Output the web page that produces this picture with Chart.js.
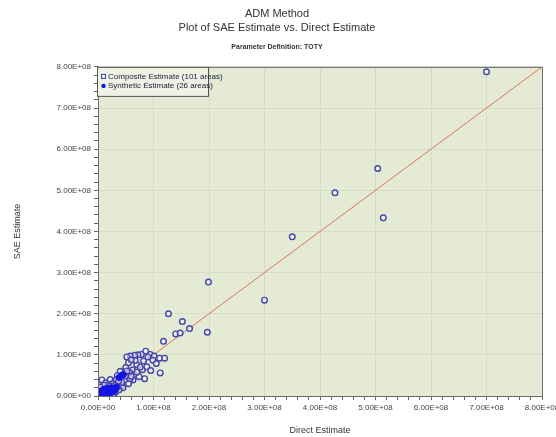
<!DOCTYPE html>
<html lang="en">
<head>
    <meta charset="UTF-8">
    <script src="https://cdn.jsdelivr.net/npm/chart.js@4.4.1/dist/chart.umd.min.js"></script>
    <title>ADM Method - SAE vs Direct</title>
    <style>
        body { margin: 0; background: #fff; }
    </style>
</head>
<body>
    <canvas id="chart" width="556" height="437"></canvas>

    <script>
        // Composite Estimate (101 areas): direct estimate (x) vs SAE estimate (y)
        const compositeX = [
            7.00e8, 5.04e8, 4.27e8, 5.14e8, 3.50e8, 1.99e8, 3.00e8, 1.27e8, 1.52e8, 1.65e8,
            1.40e8, 1.48e8, 1.97e8, 1.18e8, 0.86e8, 0.78e8, 0.72e8, 0.66e8, 0.58e8, 0.52e8,
            0.94e8, 1.01e8, 0.99e8, 1.11e8, 1.20e8, 1.12e8, 0.80e8, 0.74e8, 0.84e8, 0.62e8,
            0.57e8, 0.65e8, 0.45e8, 0.40e8, 0.63e8, 0.22e8, 0.30e8, 0.88e8, 0.70e8, 0.55e8,
            0.50e8, 0.67e8, 1.05e8, 0.95e8, 0.36e8, 0.48e8, 0.42e8, 0.55e8, 0.90e8, 0.60e8,
            0.35e8, 0.45e8, 0.38e8, 0.28e8, 0.25e8, 0.20e8, 0.18e8, 0.15e8, 0.12e8, 0.10e8,
            0.08e8, 0.06e8, 0.05e8, 0.04e8, 0.03e8, 0.02e8, 0.07e8, 0.14e8, 0.32e8, 0.26e8,
            0.50e8, 0.58e8, 0.70e8, 0.76e8, 0.82e8, 0.40e8, 0.33e8, 0.19e8, 0.22e8, 0.16e8,
            0.11e8, 0.09e8, 0.02e8, 0.01e8, 0.03e8, 0.13e8, 0.24e8, 0.29e8, 0.35e8, 0.43e8,
            0.05e8, 0.17e8, 0.21e8, 0.27e8, 0.08e8, 0.11e8, 0.04e8, 0.31e8, 0.37e8, 0.60e8,
            0.52e8
        ];
        const compositeY = [
            7.88e8, 5.53e8, 4.94e8, 4.33e8, 3.87e8, 2.77e8, 2.33e8, 2.00e8, 1.81e8, 1.64e8,
            1.51e8, 1.53e8, 1.55e8, 1.33e8, 1.09e8, 1.01e8, 1.00e8, 0.99e8, 0.97e8, 0.95e8,
            1.01e8, 0.97e8, 0.87e8, 0.92e8, 0.92e8, 0.56e8, 0.64e8, 0.47e8, 0.42e8, 0.63e8,
            0.57e8, 0.52e8, 0.53e8, 0.45e8, 0.39e8, 0.40e8, 0.35e8, 0.71e8, 0.76e8, 0.81e8,
            0.69e8, 0.86e8, 0.79e8, 0.62e8, 0.28e8, 0.38e8, 0.25e8, 0.30e8, 0.95e8, 0.88e8,
            0.50e8, 0.20e8, 0.15e8, 0.22e8, 0.12e8, 0.18e8, 0.08e8, 0.25e8, 0.14e8, 0.05e8,
            0.20e8, 0.10e8, 0.03e8, 0.15e8, 0.06e8, 0.02e8, 0.39e8, 0.32e8, 0.10e8, 0.30e8,
            0.48e8, 0.42e8, 0.58e8, 0.70e8, 0.85e8, 0.60e8, 0.40e8, 0.28e8, 0.05e8, 0.02e8,
            0.09e8, 0.24e8, 0.08e8, 0.01e8, 0.12e8, 0.04e8, 0.17e8, 0.06e8, 0.22e8, 0.33e8,
            0.18e8, 0.12e8, 0.24e8, 0.03e8, 0.02e8, 0.27e8, 0.22e8, 0.26e8, 0.36e8, 0.48e8,
            0.61e8
        ];

        // Synthetic Estimate (26 areas)
        const syntheticX = [
            0.02e8, 0.04e8, 0.06e8, 0.08e8, 0.10e8, 0.12e8, 0.15e8, 0.18e8, 0.20e8, 0.23e8,
            0.26e8, 0.30e8, 0.03e8, 0.05e8, 0.09e8, 0.14e8, 0.17e8, 0.22e8, 0.28e8, 0.33e8,
            0.38e8, 0.42e8, 0.46e8, 0.07e8, 0.11e8, 0.01e8
        ];
        const syntheticY = [
            0.01e8, 0.03e8, 0.02e8, 0.05e8, 0.03e8, 0.07e8, 0.05e8, 0.10e8, 0.06e8, 0.12e8,
            0.09e8, 0.14e8, 0.08e8, 0.12e8, 0.15e8, 0.18e8, 0.02e8, 0.20e8, 0.18e8, 0.22e8,
            0.45e8, 0.50e8, 0.52e8, 0.00e8, 0.11e8, 0.04e8
        ];

        // y = x reference line
        const lineX = [0, 8e8];
        const lineY = [0, 8e8];

        const axisMin = 0;
        const axisMax = 8e8;
        const tickStep = 2e7;

        const toPoints = (xs, ys) => xs.map((x, i) => ({ x: x, y: ys[i] }));

        const font = "'Liberation Sans', Arial, sans-serif";

        function tickLabel(value) {
            if (Math.round(value / 1e7) % 10 !== 0) return '';
            if (value === 0) return '0.00E+00';
            return (value / 1e8).toFixed(2) + 'E+08';
        }

        function gridColor(ctx) {
            if (!ctx.tick) return 'transparent';
            return Math.round(ctx.tick.value / 1e7) % 10 === 0 ? 'rgba(208,216,194,0.8)' : 'transparent';
        }

        // plot background, frame and legend box
        const plotFrame = {
            id: 'plotFrame',
            beforeDraw(chart) {
                const { ctx, chartArea: a } = chart;
                ctx.save();
                ctx.fillStyle = '#e4ead3';
                ctx.fillRect(a.left, a.top, a.right - a.left, a.bottom - a.top);
                ctx.restore();
            },
            afterDraw(chart) {
                const { ctx, chartArea: a } = chart;
                ctx.save();
                ctx.strokeStyle = '#6b6b6b';
                ctx.lineWidth = 1;
                ctx.strokeRect(a.left + 0.5, a.top + 0.5, a.right - a.left, a.bottom - a.top);

                // legend
                const lx = a.left - 1, ly = a.top, lw = 111, lh = 29;
                ctx.fillStyle = '#eef1e3';
                ctx.fillRect(lx, ly, lw, lh);
                ctx.strokeStyle = '#555';
                ctx.strokeRect(lx + 0.5, ly + 0.5, lw, lh);
                ctx.font = '8px ' + font;
                ctx.textBaseline = 'middle';
                ctx.fillStyle = '#222244';
                const ds = chart.data.datasets;
                // composite marker: open square
                ctx.strokeStyle = 'rgb(60,60,170)';
                ctx.strokeRect(lx + 4.5, ly + 7.5, 4, 4);
                ctx.fillText(ds[1].label, lx + 11, ly + 10);
                // synthetic marker: filled dot
                ctx.fillStyle = 'rgb(20,20,220)';
                ctx.beginPath();
                ctx.arc(lx + 6.5, ly + 19, 2.2, 0, Math.PI * 2);
                ctx.fill();
                ctx.fillStyle = '#222244';
                ctx.fillText(ds[2].label, lx + 11, ly + 19);
                ctx.restore();
            }
        };

        new Chart(document.getElementById('chart'), {
            type: 'scatter',
            data: {
                datasets: [
                    {
                        type: 'line',
                        label: 'y = x',
                        data: toPoints(lineX, lineY),
                        borderColor: 'rgb(214,120,88)',
                        borderWidth: 1,
                        pointRadius: 0,
                        showLine: true,
                        order: 3
                    },
                    {
                        label: 'Composite Estimate (101 areas)',
                        data: toPoints(compositeX, compositeY),
                        pointStyle: 'circle',
                        pointRadius: 2.8,
                        borderWidth: 1.4,
                        borderColor: 'rgb(70,70,170)',
                        backgroundColor: 'rgba(245,245,255,0.6)',
                        order: 2
                    },
                    {
                        label: 'Synthetic Estimate (26 areas)',
                        data: toPoints(syntheticX, syntheticY),
                        pointStyle: 'circle',
                        pointRadius: 3,
                        borderWidth: 1,
                        borderColor: 'rgb(20,20,220)',
                        backgroundColor: 'rgb(20,20,230)',
                        order: 1
                    }
                ]
            },
            options: {
                responsive: false,
                animation: false,
                layout: { padding: { left: 12, right: 14, top: 0, bottom: 0 } },
                plugins: {
                    legend: { display: false },
                    tooltip: { enabled: false },
                    title: {
                        display: true,
                        text: ['ADM Method', 'Plot of SAE Estimate vs. Direct Estimate'],
                        color: '#333',
                        font: { family: font, size: 11, weight: 'normal', lineHeight: 1.25 },
                        padding: { top: 7, bottom: 8 }
                    },
                    subtitle: {
                        display: true,
                        text: 'Parameter Definition: TOTY',
                        color: '#333',
                        font: { family: font, size: 7, weight: 'bold', lineHeight: 1.2 },
                        padding: { top: 0, bottom: 16 }
                    }
                },
                scales: {
                    x: {
                        type: 'linear',
                        min: axisMin,
                        max: axisMax,
                        afterFit(scale) {
                            scale.height = 41;
                            scale.paddingLeft = 0;
                            scale.paddingRight = 0;
                        },
                        ticks: {
                            stepSize: tickStep,
                            autoSkip: false,
                            maxRotation: 0,
                            padding: 3,
                            color: '#444',
                            font: { family: font, size: 8 },
                            callback: tickLabel
                        },
                        grid: { color: gridColor, tickColor: '#666', tickLength: 4 },
                        border: { color: '#666' },
                        title: {
                            display: true,
                            text: 'Direct Estimate',
                            color: '#333',
                            font: { family: font, size: 9 },
                            padding: { top: 0, bottom: 1 }
                        }
                    },
                    y: {
                        type: 'linear',
                        min: axisMin,
                        max: axisMax,
                        afterFit(scale) {
                            scale.width = 86;
                            scale.paddingTop = 0;
                            scale.paddingBottom = 0;
                        },
                        ticks: {
                            stepSize: tickStep,
                            autoSkip: false,
                            padding: 3,
                            color: '#444',
                            font: { family: font, size: 8 },
                            callback: tickLabel
                        },
                        grid: { color: gridColor, tickColor: '#666', tickLength: 4 },
                        border: { color: '#666' },
                        title: {
                            display: true,
                            text: 'SAE Estimate',
                            color: '#333',
                            font: { family: font, size: 9 },
                            padding: { top: 0, bottom: 1 }
                        }
                    }
                }
            },
            plugins: [plotFrame]
        });
    </script>
</body>
</html>
